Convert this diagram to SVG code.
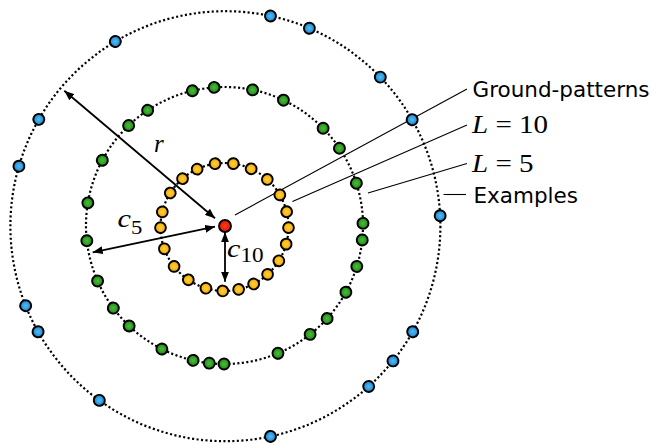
<svg xmlns="http://www.w3.org/2000/svg" xmlns:xlink="http://www.w3.org/1999/xlink" width="657" height="444" viewBox="0 0 657 444">
<style>
.ring{fill:none;stroke:#000;stroke-width:2.2;stroke-dasharray:2.1 2.4}
.lead{stroke:#000;stroke-width:1.1;fill:none}
.arr{stroke:#000;stroke-width:1.8;fill:none;marker-start:url(#ah);marker-end:url(#ah)}
.sans{font-family:"DejaVu Sans","Verdana",sans-serif;font-size:21.5px;fill:#000}
.math{font-family:"Liberation Serif","Times New Roman",serif;fill:#000}
.it{font-style:italic}
</style>
<defs>
<radialGradient id="gB" cx="50%" cy="50%" r="50%"><stop offset="0" stop-color="#55bdf2"/><stop offset="1" stop-color="#1a86d0"/></radialGradient>
<radialGradient id="gG" cx="50%" cy="50%" r="50%"><stop offset="0" stop-color="#4cbc3c"/><stop offset="1" stop-color="#1e8a14"/></radialGradient>
<radialGradient id="gO" cx="50%" cy="50%" r="50%"><stop offset="0" stop-color="#ffd23c"/><stop offset="1" stop-color="#f4a600"/></radialGradient>
<radialGradient id="gR" cx="50%" cy="50%" r="50%"><stop offset="0" stop-color="#ff3a20"/><stop offset="1" stop-color="#dc1800"/></radialGradient>
<circle id="dB" r="5.5" fill="url(#gB)" stroke="#000" stroke-width="1.9"/>
<circle id="dG" r="5.5" fill="url(#gG)" stroke="#000" stroke-width="1.9"/>
<circle id="dO" r="5.4" fill="url(#gO)" stroke="#000" stroke-width="1.9"/>
<marker id="ah" viewBox="0 0 10 8" refX="10" refY="4" markerWidth="10" markerHeight="8" markerUnits="userSpaceOnUse" orient="auto-start-reverse"><path d="M0,0 L10,4 L0,8 z" fill="#000"/></marker>
</defs>
<rect width="657" height="444" fill="#fff"/>
<g id="rings">
<circle class="ring" cx="225.4" cy="226.2" r="215"/>
<circle class="ring" cx="224.5" cy="225.5" r="138.5"/>
<circle class="ring" cx="224.5" cy="227" r="64"/>
</g>
<g id="connectors">
<line class="lead" x1="235" y1="215" x2="467" y2="89"/>
<line class="lead" x1="292.5" y1="201.5" x2="467" y2="125"/>
<line class="lead" x1="368" y1="193" x2="467" y2="163.5"/>
<line class="lead" x1="443.5" y1="194.5" x2="466" y2="194.5"/>
<line class="arr" x1="64.3" y1="90.7" x2="215" y2="218.3"/>
<line class="arr" x1="92.7" y1="252.3" x2="215" y2="226.7"/>
<line class="arr" x1="225" y1="232.3" x2="225" y2="281.7"/>
</g>
<g id="examples">
<g id="b1"><use xlink:href="#dB" transform="translate(225.4 226.2) rotate(-77.9) translate(215 0)"/></g>
<g id="b2"><use xlink:href="#dB" transform="translate(225.4 226.2) rotate(-67) translate(215 0)"/></g>
<g id="b3"><use xlink:href="#dB" transform="translate(225.4 226.2) rotate(-43.9) translate(215 0)"/></g>
<g id="b4"><use xlink:href="#dB" transform="translate(225.4 226.2) rotate(-29.7) translate(215 0)"/></g>
<g id="b5"><use xlink:href="#dB" transform="translate(225.4 226.2) rotate(-2.8) translate(215 0)"/></g>
<g id="b6"><use xlink:href="#dB" transform="translate(225.4 226.2) rotate(29.4) translate(215 0)"/></g>
<g id="b7"><use xlink:href="#dB" transform="translate(225.4 226.2) rotate(38.8) translate(215 0)"/></g>
<g id="b8"><use xlink:href="#dB" transform="translate(225.4 226.2) rotate(48.2) translate(215 0)"/></g>
<g id="b9"><use xlink:href="#dB" transform="translate(225.4 226.2) rotate(77.9) translate(215 0)"/></g>
<g id="b10"><use xlink:href="#dB" transform="translate(225.4 226.2) rotate(125.9) translate(215 0)"/></g>
<g id="b11"><use xlink:href="#dB" transform="translate(225.4 226.2) rotate(150.6) translate(215 0)"/></g>
<g id="b12"><use xlink:href="#dB" transform="translate(225.4 226.2) rotate(158.3) translate(215 0)"/></g>
<g id="b13"><use xlink:href="#dB" transform="translate(225.4 226.2) rotate(196.2) translate(215 0)"/></g>
<g id="b14"><use xlink:href="#dB" transform="translate(225.4 226.2) rotate(209.8) translate(215 0)"/></g>
<g id="b15"><use xlink:href="#dB" transform="translate(225.4 226.2) rotate(239.2) translate(215 0)"/></g>
</g>
<g id="level5">
<g id="g1"><use xlink:href="#dG" transform="translate(224.5 225.5) rotate(-103.4) translate(138.5 0)"/></g>
<g id="g2"><use xlink:href="#dG" transform="translate(224.5 225.5) rotate(-94.3) translate(138.5 0)"/></g>
<g id="g3"><use xlink:href="#dG" transform="translate(224.5 225.5) rotate(-78.3) translate(138.5 0)"/></g>
<g id="g4"><use xlink:href="#dG" transform="translate(224.5 225.5) rotate(-64.8) translate(138.5 0)"/></g>
<g id="g5"><use xlink:href="#dG" transform="translate(224.5 225.5) rotate(-44.6) translate(138.5 0)"/></g>
<g id="g6"><use xlink:href="#dG" transform="translate(224.5 225.5) rotate(-33.9) translate(138.5 0)"/></g>
<g id="g7"><use xlink:href="#dG" transform="translate(224.5 225.5) rotate(-17.8) translate(138.5 0)"/></g>
<g id="g8"><use xlink:href="#dG" transform="translate(224.5 225.5) rotate(-0.9) translate(138.5 0)"/></g>
<g id="g9"><use xlink:href="#dG" transform="translate(224.5 225.5) rotate(6) translate(138.5 0)"/></g>
<g id="g10"><use xlink:href="#dG" transform="translate(224.5 225.5) rotate(17.2) translate(138.5 0)"/></g>
<g id="g11"><use xlink:href="#dG" transform="translate(224.5 225.5) rotate(28.8) translate(138.5 0)"/></g>
<g id="g12"><use xlink:href="#dG" transform="translate(224.5 225.5) rotate(42.2) translate(138.5 0)"/></g>
<g id="g13"><use xlink:href="#dG" transform="translate(224.5 225.5) rotate(51.8) translate(138.5 0)"/></g>
<g id="g14"><use xlink:href="#dG" transform="translate(224.5 225.5) rotate(67.3) translate(138.5 0)"/></g>
<g id="g15"><use xlink:href="#dG" transform="translate(224.5 225.5) rotate(90.2) translate(138.5 0)"/></g>
<g id="g16"><use xlink:href="#dG" transform="translate(224.5 225.5) rotate(96.3) translate(138.5 0)"/></g>
<g id="g17"><use xlink:href="#dG" transform="translate(224.5 225.5) rotate(103.1) translate(138.5 0)"/></g>
<g id="g18"><use xlink:href="#dG" transform="translate(224.5 225.5) rotate(116.9) translate(138.5 0)"/></g>
<g id="g19"><use xlink:href="#dG" transform="translate(224.5 225.5) rotate(133.5) translate(138.5 0)"/></g>
<g id="g20"><use xlink:href="#dG" transform="translate(224.5 225.5) rotate(143.4) translate(138.5 0)"/></g>
<g id="g21"><use xlink:href="#dG" transform="translate(224.5 225.5) rotate(156.4) translate(138.5 0)"/></g>
<g id="g22"><use xlink:href="#dG" transform="translate(224.5 225.5) rotate(173.7) translate(138.5 0)"/></g>
<g id="g23"><use xlink:href="#dG" transform="translate(224.5 225.5) rotate(189.4) translate(138.5 0)"/></g>
<g id="g24"><use xlink:href="#dG" transform="translate(224.5 225.5) rotate(208.1) translate(138.5 0)"/></g>
<g id="g25"><use xlink:href="#dG" transform="translate(224.5 225.5) rotate(226.2) translate(138.5 0)"/></g>
<g id="g26"><use xlink:href="#dG" transform="translate(224.5 225.5) rotate(236.3) translate(138.5 0)"/></g>
</g>
<g id="level10">
<g id="o1"><use xlink:href="#dO" transform="translate(224.5 227) rotate(-115.3) translate(64 0)"/></g>
<g id="o2"><use xlink:href="#dO" transform="translate(224.5 227) rotate(-98.5) translate(64 0)"/></g>
<g id="o3"><use xlink:href="#dO" transform="translate(224.5 227) rotate(-82.1) translate(64 0)"/></g>
<g id="o4"><use xlink:href="#dO" transform="translate(224.5 227) rotate(-65.4) translate(64 0)"/></g>
<g id="o5"><use xlink:href="#dO" transform="translate(224.5 227) rotate(-48) translate(64 0)"/></g>
<g id="o6"><use xlink:href="#dO" transform="translate(224.5 227) rotate(-30.1) translate(64 0)"/></g>
<g id="o7"><use xlink:href="#dO" transform="translate(224.5 227) rotate(-13.8) translate(64 0)"/></g>
<g id="o8"><use xlink:href="#dO" transform="translate(224.5 227) rotate(0.6) translate(64 0)"/></g>
<g id="o9"><use xlink:href="#dO" transform="translate(224.5 227) rotate(15.5) translate(64 0)"/></g>
<g id="o10"><use xlink:href="#dO" transform="translate(224.5 227) rotate(31.9) translate(64 0)"/></g>
<g id="o11"><use xlink:href="#dO" transform="translate(224.5 227) rotate(47.7) translate(64 0)"/></g>
<g id="o12"><use xlink:href="#dO" transform="translate(224.5 227) rotate(62.9) translate(64 0)"/></g>
<g id="o13"><use xlink:href="#dO" transform="translate(224.5 227) rotate(77.2) translate(64 0)"/></g>
<g id="o14"><use xlink:href="#dO" transform="translate(224.5 227) rotate(91.6) translate(64 0)"/></g>
<g id="o15"><use xlink:href="#dO" transform="translate(224.5 227) rotate(106.9) translate(64 0)"/></g>
<g id="o16"><use xlink:href="#dO" transform="translate(224.5 227) rotate(124.4) translate(64 0)"/></g>
<g id="o17"><use xlink:href="#dO" transform="translate(224.5 227) rotate(142) translate(64 0)"/></g>
<g id="o18"><use xlink:href="#dO" transform="translate(224.5 227) rotate(160.1) translate(64 0)"/></g>
<g id="o19"><use xlink:href="#dO" transform="translate(224.5 227) rotate(179.4) translate(64 0)"/></g>
<g id="o20"><use xlink:href="#dO" transform="translate(224.5 227) rotate(193.7) translate(64 0)"/></g>
<g id="o21"><use xlink:href="#dO" transform="translate(224.5 227) rotate(212.1) translate(64 0)"/></g>
<g id="o22"><use xlink:href="#dO" transform="translate(224.5 227) rotate(229) translate(64 0)"/></g>
</g>
<g id="ground-pattern">
<circle cx="225" cy="226" r="6" fill="url(#gR)" stroke="#000" stroke-width="1.9"/>
</g>
<g id="labels">
<text class="math it" x="154" y="151.7" font-size="25">r</text>
<text class="math" transform="translate(117.5 226.7) scale(1.16 1)" font-size="26"><tspan class="it">c</tspan><tspan font-size="19.5" dy="7.3">5</tspan></text>
<text class="math" transform="translate(227 256.7) scale(1.16 1)" font-size="26"><tspan class="it">c</tspan><tspan font-size="20" dy="5.6">10</tspan></text>
<text class="sans" x="472.5" y="97">Ground-patterns</text>
<text class="math" transform="translate(472 133.3) scale(1.16 1)" font-size="25"><tspan class="it">L</tspan> = 10</text>
<text class="math" transform="translate(472 171.7) scale(1.16 1)" font-size="25"><tspan class="it">L</tspan> = 5</text>
<text class="sans" x="473.5" y="202.5">Examples</text>
</g>
</svg>
